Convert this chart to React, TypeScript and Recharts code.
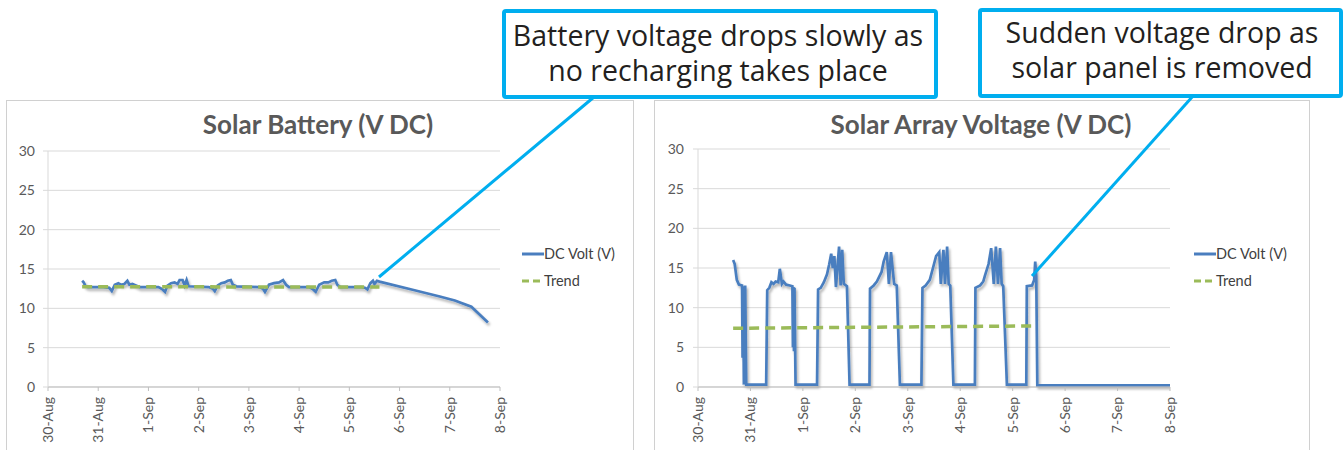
import React from 'react';
import { LineChart, Line, XAxis, YAxis, CartesianGrid, Legend } from 'recharts';

const dayLabels = ['30-Aug', '31-Aug', '1-Sep', '2-Sep', '3-Sep', '4-Sep', '5-Sep', '6-Sep', '7-Sep', '8-Sep'];
const dayTicks = [0, 1, 2, 3, 4, 5, 6, 7, 8, 9];
const voltTicks = [0, 5, 10, 15, 20, 25, 30];

// solar battery, days since 30-Aug
const batteryDays = [
  0.68, 0.71, 0.75, 0.8,
  1.1, 1.22, 1.27, 1.33, 1.4, 1.45, 1.52, 1.58, 1.62, 1.68, 1.75, 1.82,
  2.2, 2.28, 2.33, 2.38, 2.45, 2.52, 2.58, 2.62, 2.68, 2.72, 2.76, 2.8,
  3.2, 3.28, 3.32, 3.38, 3.45, 3.52, 3.58, 3.64, 3.68, 3.75,
  4.2, 4.28, 4.32, 4.4, 4.5, 4.6, 4.68, 4.74, 4.8,
  5.2, 5.28, 5.33, 5.4, 5.5, 5.58, 5.65, 5.72, 5.76, 5.82,
  6.25, 6.32, 6.36, 6.42, 6.47, 6.5, 6.55, 6.6,
  7.3, 7.8, 8.1, 8.43, 8.76,
];
const batteryVolts = [
  13.5, 13.3, 12.8, 12.7,
  12.7, 12.6, 12.2, 13.0, 13.2, 13.0, 13.1, 13.5, 13.0, 13.1, 12.9, 12.7,
  12.7, 12.4, 12.1, 12.9, 13.2, 13.3, 13.1, 13.6, 13.6, 12.9, 13.6, 12.8,
  12.7, 12.5, 12.2, 12.9, 13.2, 13.3, 13.5, 13.6, 13.0, 12.8,
  12.7, 12.5, 12.1, 13.0, 13.2, 13.3, 13.6, 13.0, 12.7,
  12.7, 12.4, 12.1, 13.0, 13.3, 13.3, 13.5, 13.6, 13.0, 12.7,
  12.7, 12.6, 12.4, 13.2, 13.5, 13.1, 13.5, 13.4,
  12.3, 11.5, 11.0, 10.2, 8.2,
];
const batteryTrendDays = [0.68, 6.6];
const batteryTrendVolts = [12.75, 12.7];

// solar array
const arrayDays = [
  0.67, 0.7, 0.74, 0.78, 0.84, 0.85, 0.86, 0.875, 0.9, 0.92,
  1.3, 1.32, 1.36, 1.4, 1.44, 1.48, 1.53, 1.56, 1.6, 1.63, 1.68, 1.75, 1.8, 1.81, 1.82, 1.83, 1.84, 1.86,
  2.27, 2.29, 2.34, 2.4, 2.46, 2.5, 2.54, 2.57, 2.6, 2.63, 2.69, 2.72, 2.75, 2.78, 2.84, 2.89,
  3.27, 3.28, 3.35, 3.41, 3.5, 3.54, 3.6, 3.64, 3.68, 3.74, 3.79, 3.85,
  4.26, 4.28, 4.34, 4.42, 4.48, 4.54, 4.6, 4.63, 4.68, 4.71, 4.75, 4.78, 4.81, 4.87,
  5.28, 5.29, 5.38, 5.44, 5.47, 5.54, 5.59, 5.64, 5.68, 5.72, 5.76, 5.79, 5.82, 5.89,
  6.26, 6.27, 6.37, 6.41, 6.43, 6.45, 6.47,
  7.5, 9.0,
];
const arrayVolts = [
  16.0, 15.5, 13.5, 12.9, 12.8, 3.7, 12.7, 0.3, 12.8, 0.3,
  0.3, 12.2, 12.5, 13.2, 13.0, 13.3, 13.2, 14.9, 13.0, 13.3, 12.9, 12.8, 12.7, 5.0, 12.6, 4.5, 12.5, 0.3,
  0.3, 12.3, 12.5, 13.2, 14.2, 15.4, 16.8, 15.0, 16.5, 12.6, 17.7, 12.8, 17.3, 13.0, 12.7, 0.3,
  0.3, 12.4, 12.8, 13.3, 14.5, 15.8, 17.0, 13.0, 17.0, 13.0, 12.8, 0.3,
  0.3, 12.5, 12.8, 13.5, 15.0, 16.5, 17.0, 13.0, 17.3, 13.0, 17.7, 13.0, 12.8, 0.3,
  0.3, 12.5, 12.8, 13.3, 14.0, 15.5, 17.5, 13.0, 17.7, 13.0, 17.5, 13.0, 12.7, 0.3,
  0.3, 12.7, 12.8, 13.5, 15.8, 14.0, 0.2,
  0.2, 0.2,
];
const arrayTrendDays = [0.67, 6.45];
const arrayTrendVolts = [7.4, 7.7];

const toRows = (days: number[], volts: number[]) => days.map((d, i) => ({ day: d, volt: volts[i] }));

const BLUE = '#4a7ebf';
const GREEN = '#9bbb59';
const CYAN = '#00aeef';
const AXIS_TEXT = '#595959';
const FONT = 'Lato, sans-serif';

const DayTick = (props: any) => {
  const { x, y, payload } = props;
  return (
    <g transform={`translate(${x},${y})`}>
      <text x={0} y={0} dy="0.35em" textAnchor="end" transform="rotate(-90)" fill={AXIS_TEXT} fontSize={14} fontFamily={FONT}>
        {dayLabels[payload.value]}
      </text>
    </g>
  );
};

const LegendBox = (props: any) => {
  const items = props.payload || [];
  return (
    <div style={{ fontFamily: FONT, fontSize: 14.5, color: '#404040' }}>
      {items.map((it: any) => (
        <div key={it.value} style={{ display: 'flex', alignItems: 'center', height: 27 }}>
          <svg width={22} height={6}>
            <line x1={0} y1={3} x2={22} y2={3} stroke={it.color} strokeWidth={3}
              strokeDasharray={it.payload && it.payload.strokeDasharray ? '7 4' : undefined} />
          </svg>
          <span>{it.value}</span>
        </div>
      ))}
    </div>
  );
};

type ChartProps = {
  id: string;
  left: number;
  width: number;
  yWidth: number;
  right: number;
  top: number;
  legendX: number;
  tickMargin: number;
  volts: { day: number; volt: number }[];
  trend: { day: number; volt: number }[];
};

function VoltChart(p: ChartProps) {
  return (
    <div style={{ position: 'absolute', left: p.left, top: 100 }}>
      <LineChart width={p.width} height={350} margin={{ top: p.top, right: p.right, left: 0, bottom: 0 }}>
        <defs>
          <filter id={p.id} x="-5%" y="-20%" width="110%" height="160%">
            <feDropShadow dx="1.5" dy="2.5" stdDeviation="1.2" floodColor="#000" floodOpacity="0.3" />
          </filter>
        </defs>
        <CartesianGrid vertical={false} stroke="#d9d9d9" />
        <XAxis dataKey="day" type="number" domain={[0, 9]} ticks={dayTicks} interval={0} height={63}
          tickSize={4} tickMargin={6} tick={<DayTick />} stroke="#bfbfbf" allowDataOverflow />
        <YAxis type="number" domain={[0, 30]} ticks={voltTicks} interval={0} width={p.yWidth}
          tickSize={5} tickMargin={p.tickMargin} stroke="#d9d9d9"
          tick={{ fill: AXIS_TEXT, fontSize: 14, fontFamily: FONT }} />
        <Legend layout="vertical" align="center" verticalAlign="middle" content={<LegendBox />}
          wrapperStyle={{ left: p.legendX, top: 140, width: 120 }} />
        <Line data={p.volts} dataKey="volt" name="DC Volt (V)" type="linear" stroke={BLUE} strokeWidth={2.7}
          dot={false} isAnimationActive={false} filter={`url(#${p.id})`} />
        <Line data={p.trend} dataKey="volt" name="Trend" type="linear" stroke={GREEN} strokeWidth={3.5}
          strokeDasharray="10 6" dot={false} isAnimationActive={false} />
      </LineChart>
    </div>
  );
}

export default function App() {
  return (
    <div style={{ position: 'absolute', left: 0, top: 0, width: 1344, height: 450, background: '#fff', overflow: 'hidden' }}>
      <div style={{ position: 'absolute', left: 6, top: 100, width: 626, height: 400, border: '1px solid #d0d0d0' }} />
      <div style={{ position: 'absolute', left: 654, top: 100, width: 654, height: 400, border: '1px solid #d0d0d0' }} />
      <VoltChart id="shL" left={0} width={632} yWidth={48} right={132} top={51} legendX={522} tickMargin={8}
        volts={toRows(batteryDays, batteryVolts)} trend={toRows(batteryTrendDays, batteryTrendVolts)} />
      <VoltChart id="shR" left={654} width={654} yWidth={44} right={138} top={49} legendX={540} tickMargin={9}
        volts={toRows(arrayDays, arrayVolts)} trend={toRows(arrayTrendDays, arrayTrendVolts)} />
      <svg width={1344} height={450} style={{ position: 'absolute', left: 0, top: 0, pointerEvents: 'none' }}>
        <text x={318} y={134} textAnchor="middle" fontFamily={FONT} fontWeight="bold" fontSize={26} fill={AXIS_TEXT}>Solar Battery (V DC)</text>
        <text x={981} y={134} textAnchor="middle" fontFamily={FONT} fontWeight="bold" fontSize={26} fill={AXIS_TEXT}>Solar Array Voltage (V DC)</text>
        <line x1={594} y1={97} x2={379} y2={277} stroke={CYAN} strokeWidth={3} />
        <line x1={1193} y1={96} x2={1032} y2={276} stroke={CYAN} strokeWidth={3} />
        <rect x={504} y={11} width={432} height={86} rx={2} fill="#fff" stroke={CYAN} strokeWidth={4} />
        <rect x={980} y={10} width={361} height={86} rx={2} fill="#fff" stroke={CYAN} strokeWidth={4} />
        <g fontFamily="'Open Sans', sans-serif" fontSize={28.5} fill="#231f20" textAnchor="middle">
          <text x={718} y={46}>Battery voltage drops slowly as</text>
          <text x={718} y={81}>no recharging takes place</text>
          <text x={1162} y={43}>Sudden voltage drop as</text>
          <text x={1162} y={78}>solar panel is removed</text>
        </g>
      </svg>
    </div>
  );
}
